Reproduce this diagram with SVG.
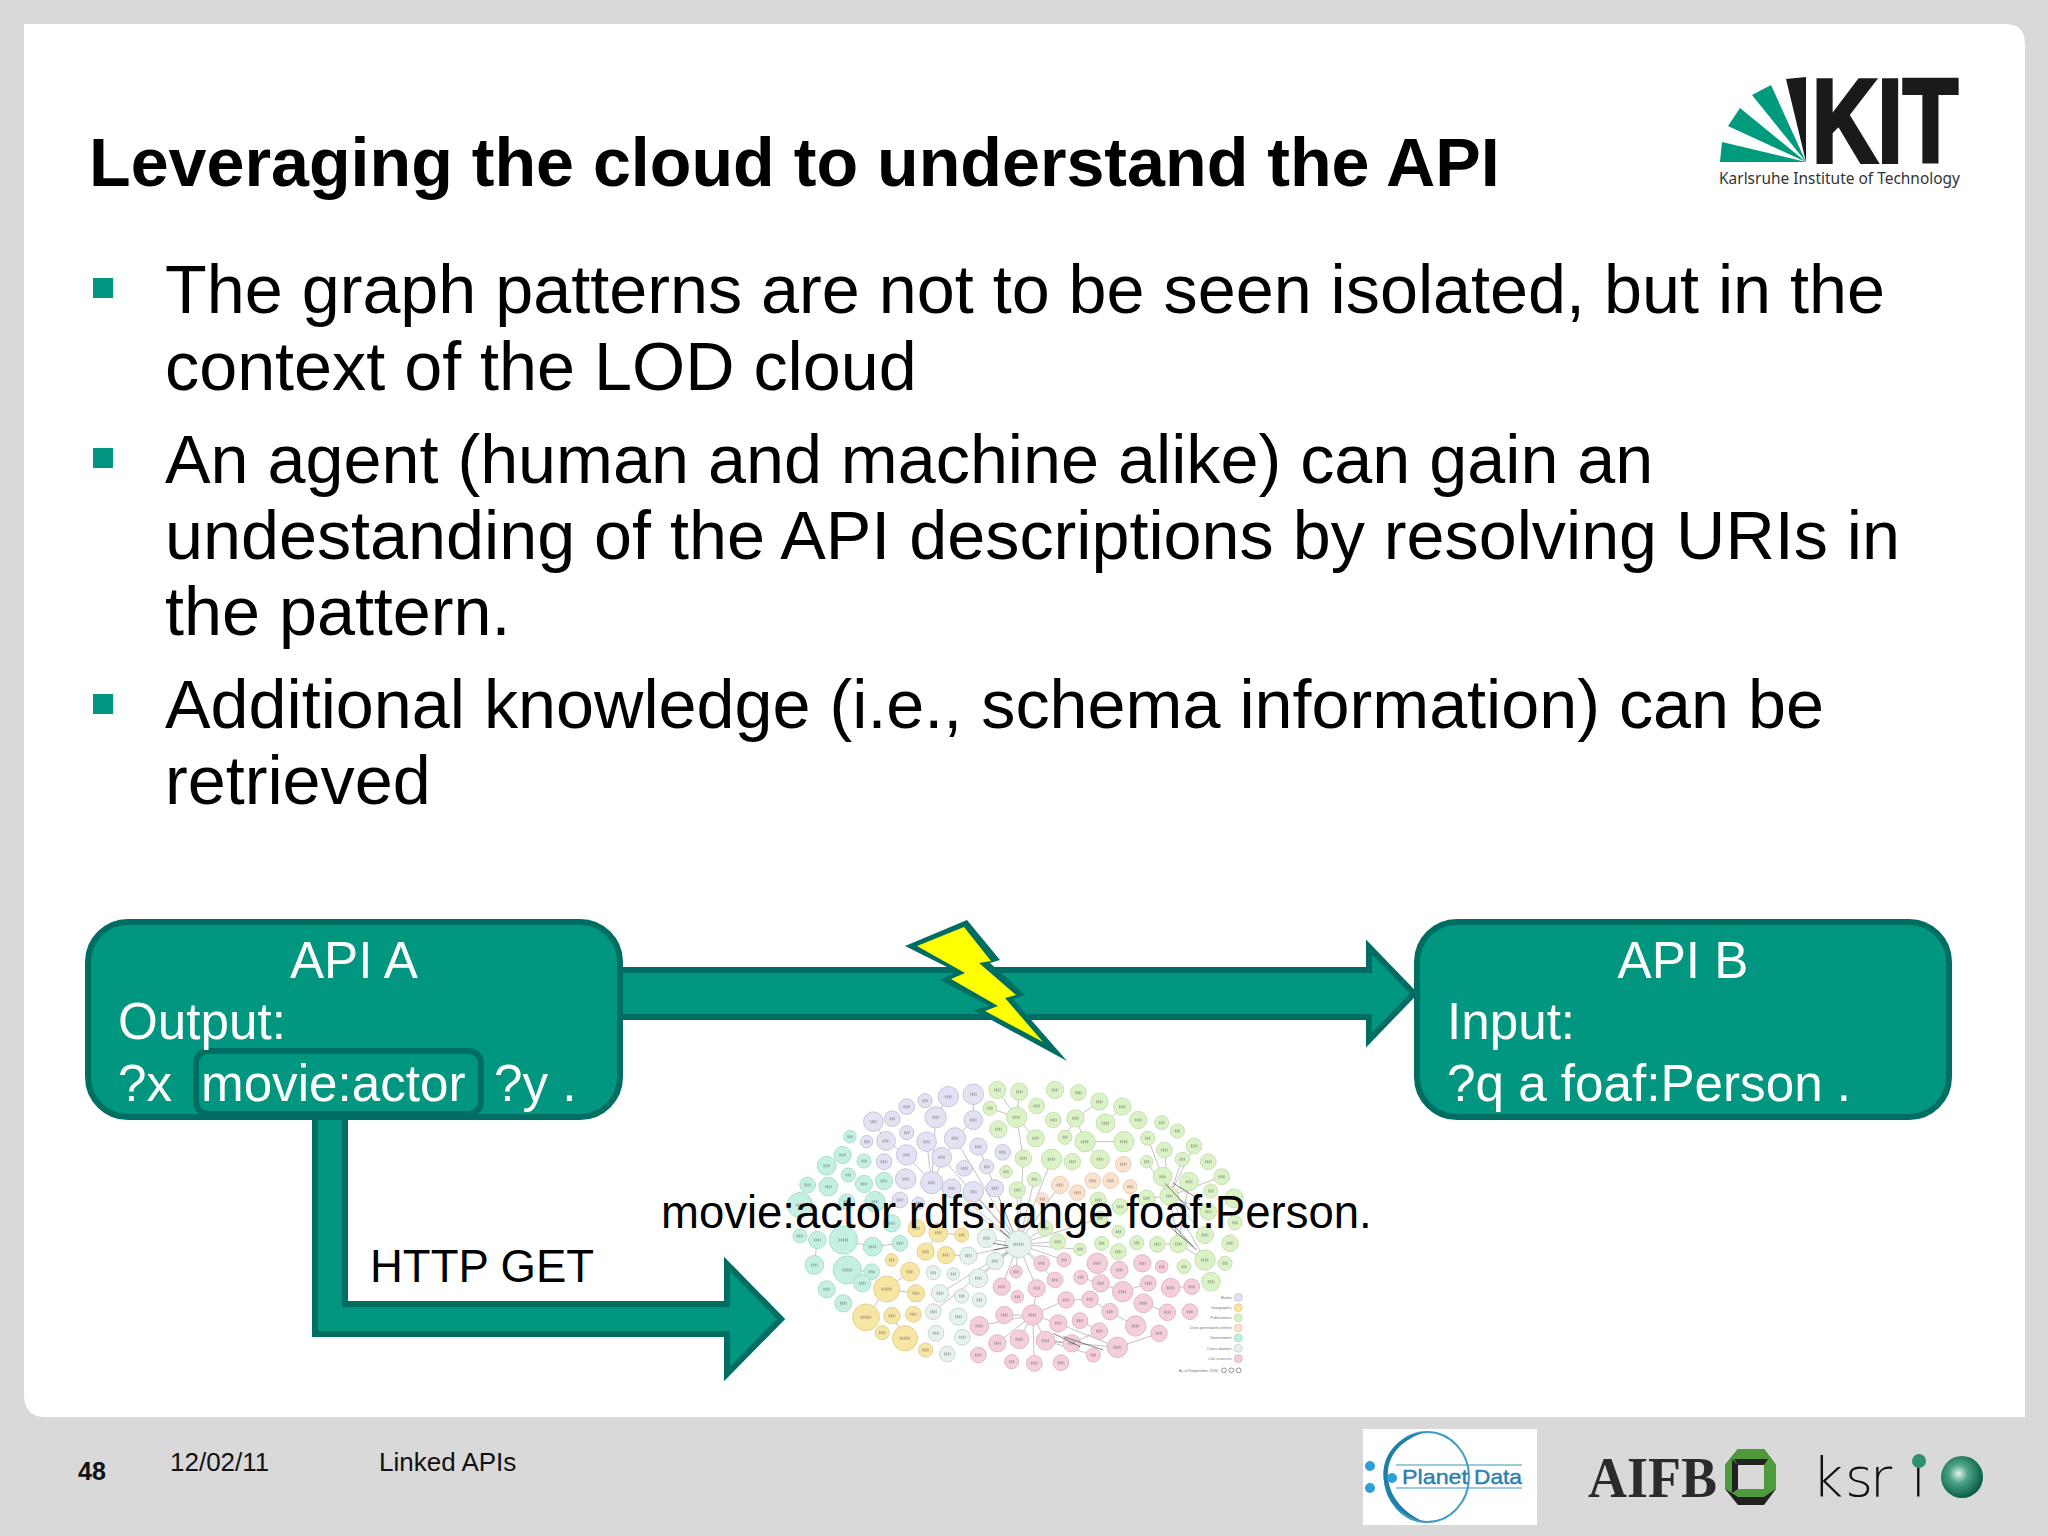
<svg xmlns="http://www.w3.org/2000/svg" width="2048" height="1536" viewBox="0 0 2048 1536">
<style>
text{font-family:"Liberation Sans",Arial,sans-serif}
.t{font-size:68.300px;fill:#000}
.w{font-size:51.200px;fill:#fff}
.k{font-size:45.500px;fill:#000}
.f{font-size:26px;fill:#111}
.bul{fill:#009682}
.node{fill:#00967f;stroke:#006d63;stroke-width:6}
.arr{fill:#00967f;stroke:#006d63;stroke-width:6;stroke-linejoin:miter}
.g{fill:#009a7c}
.lod circle{stroke-width:2;transform-box:fill-box;transform-origin:center;transform:scale(1.18)}
.me circle{fill:#e2e2f2;stroke:#bcbcd6}
.go circle{fill:#c4f0e1;stroke:#a0d8c6}
.ge circle{fill:#f7e5a3;stroke:#dcc884}
.cr circle{fill:#e6f2ee;stroke:#bccec8}
.li circle{fill:#f4cfda;stroke:#d9acbc}
.pu circle{fill:#dbf2c6;stroke:#bcdaa6}
.us circle{fill:#fbe2ce;stroke:#e6c6ae}
.lg{font-size:12px;fill:#777;text-anchor:end}
</style>
<defs>
<radialGradient id="ball" cx="0.42" cy="0.42" r="0.62"><stop offset="0" stop-color="#e8f4ee"/><stop offset="0.35" stop-color="#4fa58a"/><stop offset="1" stop-color="#00573f"/></radialGradient>
</defs>
<rect id="bg" width="2048" height="1536" fill="#d9d9d9"/>
<path id="panel" d="M24 24H2005Q2025 24 2025 44V1417H46Q24 1417 24 1395Z" fill="#fff"/>

<g id="kit-logo">
<polygon class="g" points="1806,162 1720,162 1722,142"/>
<polygon class="g" points="1806,162 1728,126 1740,108"/>
<polygon class="g" points="1806,162 1752,95 1771,85"/>
<polygon points="1806,162 1786,79 1806,77" fill="#1a1a1a"/>
<text x="1812" y="162" font-size="118" font-weight="700" textLength="146" lengthAdjust="spacingAndGlyphs" fill="#1a1a1a" stroke="#1a1a1a" stroke-width="4">KIT</text>
<text x="1719" y="184" font-size="17" textLength="241" lengthAdjust="spacingAndGlyphs" style="font-family:'Noto Sans',sans-serif" fill="#333">Karlsruhe Institute of Technology</text>
</g>

<text id="title" x="89" y="186" font-size="68.200" font-weight="700" fill="#000">Leveraging the cloud to understand the API</text>

<g id="bullets">
<rect class="bul" x="93" y="278" width="20" height="20"/>
<rect class="bul" x="93" y="448" width="20" height="20"/>
<rect class="bul" x="93" y="694" width="20" height="20"/>
<text class="t" x="165" y="313">The graph patterns are not to be seen isolated, but in the</text>
<text class="t" x="165" y="390">context of the LOD cloud</text>
<text class="t" x="165" y="483">An agent (human and machine alike) can gain an</text>
<text class="t" x="165" y="559">undestanding of the API descriptions by resolving URIs in</text>
<text class="t" x="165" y="635">the pattern.</text>
<text class="t" x="165" y="728">Additional knowledge (i.e., schema information) can be</text>
<text class="t" x="165" y="804">retrieved</text>
</g>

<g id="lod-cloud" class="lod" transform="translate(760 900) scale(.33333)">
<path fill="none" stroke="#666" stroke-width="1.6" opacity=".75" d="M775 1033L680 1015M775 1033L625 1067M775 1033L705 1083M775 1033L655 1135M775 1033L540 1180M775 1033L520 1235M775 1033L515 848M775 1033L575 865M775 1033L640 875M775 1033L705 865M775 1033L585 715M775 1033L655 740M775 1033L545 772M775 1033L790 775M775 1033L823 838M775 1033L875 778M775 1033L900 855M775 1033L845 1090M775 1033L912 1080M775 1033L768 1115M775 1033L830 1165M775 1033L725 1160M775 1033L885 1140M775 1033L893 1025M775 1033L855 985M775 1033L960 1048M775 1033L1020 955M775 1033L772 870M770 652L778 575M770 652L712 570M770 652L690 625M770 652L827 715M770 652L790 775M947 655L915 712M947 655L1018 605M975 725L1092 725M975 725L1020 778M975 725L947 655M1037 670L1087 620M527 652L515 848M585 715L515 848M500 725L515 848M440 765L515 848M640 660L640 583M640 660L585 715M565 590L527 652M378 723L440 765M340 665L378 723M250 1020L338 1040M338 1040L420 1030M163 1095L172 1020M262 1110L335 1115M380 1167L450 1115M380 1167L468 1180M435 1315L396 1247M318 1252L380 1167M535 998L497 1055M558 1065L625 1067M535 998L605 1005M818 1245L733 1245M818 1245L895 1270M818 1245L857 1322M818 1245L778 1318M818 1245L712 1330M818 1245L658 1278M818 1245L823 1390M818 1245L918 1200M818 1245L830 1165M857 1322L935 1330M857 1322L1000 1365M857 1322L1072 1342M895 1270L1072 1342M960 1262L1018 1293M935 1330L1018 1293M1072 1342L1197 1300M1127 1278L1050 1235M1150 1210L1222 1237M1232 1163L1295 1160M1165 1150L1088 1175M1022 1150L962 1132M1022 1150L1088 1175M990 1198L918 1200M1050 1235L990 1198M1228 888L1287 845M1228 888L1208 830M1228 888L1160 895M1228 888L1255 1032M1228 888L1335 1005M1228 888L1335 1080M1228 888L1213 750M1228 888L1267 778M1228 888L1160 785M1228 888L1345 935M1228 888L1385 830M1228 888L1302 738M1208 830L1163 715M1255 1032L1287 845M1255 1032L1335 1080M1255 1032L1192 1033"/>
<g class="me"><circle cx="565" cy="590" r="26"/><circle cx="640" cy="583" r="26"/><circle cx="495" cy="602" r="18"/><circle cx="440" cy="620" r="20"/><circle cx="340" cy="665" r="25"/><circle cx="397" cy="656" r="20"/><circle cx="527" cy="652" r="27"/><circle cx="640" cy="660" r="24"/><circle cx="320" cy="725" r="16"/><circle cx="378" cy="723" r="24"/><circle cx="440" cy="698" r="18"/><circle cx="500" cy="725" r="25"/><circle cx="585" cy="715" r="27"/><circle cx="655" cy="740" r="22"/><circle cx="728" cy="757" r="20"/><circle cx="440" cy="765" r="26"/><circle cx="545" cy="772" r="25"/><circle cx="372" cy="785" r="20"/><circle cx="613" cy="805" r="20"/><circle cx="680" cy="800" r="18"/><circle cx="437" cy="837" r="26"/><circle cx="515" cy="848" r="28"/><circle cx="575" cy="865" r="24"/><circle cx="640" cy="875" r="26"/><circle cx="705" cy="865" r="22"/><circle cx="420" cy="900" r="20"/><circle cx="475" cy="910" r="16"/><circle cx="1435" cy="1192" r="10"/></g>
<g class="go"><circle cx="270" cy="710" r="16"/><circle cx="248" cy="765" r="22"/><circle cx="200" cy="797" r="24"/><circle cx="312" cy="783" r="18"/><circle cx="265" cy="825" r="18"/><circle cx="312" cy="852" r="22"/><circle cx="372" cy="843" r="22"/><circle cx="143" cy="855" r="20"/><circle cx="205" cy="860" r="24"/><circle cx="120" cy="915" r="32"/><circle cx="345" cy="905" r="26"/><circle cx="260" cy="905" r="20"/><circle cx="395" cy="970" r="22"/><circle cx="120" cy="1008" r="18"/><circle cx="172" cy="1020" r="22"/><circle cx="250" cy="1020" r="36"/><circle cx="338" cy="1040" r="24"/><circle cx="420" cy="1030" r="20"/><circle cx="163" cy="1095" r="24"/><circle cx="262" cy="1110" r="36"/><circle cx="335" cy="1115" r="20"/><circle cx="200" cy="1168" r="22"/><circle cx="307" cy="1150" r="22"/><circle cx="250" cy="1210" r="22"/><circle cx="1435" cy="1314" r="10"/></g>
<g class="ge"><circle cx="470" cy="985" r="22"/><circle cx="535" cy="998" r="24"/><circle cx="605" cy="1005" r="18"/><circle cx="497" cy="1055" r="22"/><circle cx="558" cy="1065" r="22"/><circle cx="395" cy="1080" r="16"/><circle cx="450" cy="1115" r="24"/><circle cx="380" cy="1167" r="33"/><circle cx="468" cy="1180" r="22"/><circle cx="318" cy="1252" r="34"/><circle cx="396" cy="1247" r="21"/><circle cx="460" cy="1243" r="20"/><circle cx="367" cy="1298" r="18"/><circle cx="435" cy="1315" r="32"/><circle cx="497" cy="1350" r="18"/><circle cx="1435" cy="1223" r="10"/></g>
<g class="cr"><circle cx="680" cy="1015" r="24"/><circle cx="775" cy="1033" r="34"/><circle cx="625" cy="1067" r="22"/><circle cx="705" cy="1083" r="22"/><circle cx="520" cy="1118" r="18"/><circle cx="580" cy="1122" r="16"/><circle cx="655" cy="1135" r="24"/><circle cx="540" cy="1180" r="22"/><circle cx="605" cy="1188" r="18"/><circle cx="658" cy="1200" r="18"/><circle cx="520" cy="1235" r="20"/><circle cx="595" cy="1250" r="22"/><circle cx="528" cy="1300" r="20"/><circle cx="607" cy="1312" r="20"/><circle cx="562" cy="1362" r="20"/><circle cx="1435" cy="1345" r="10"/></g>
<g class="li"><circle cx="845" cy="1090" r="20"/><circle cx="912" cy="1080" r="18"/><circle cx="1012" cy="1090" r="26"/><circle cx="1078" cy="1110" r="22"/><circle cx="1147" cy="1090" r="22"/><circle cx="1205" cy="1100" r="16"/><circle cx="768" cy="1115" r="16"/><circle cx="885" cy="1140" r="20"/><circle cx="962" cy="1132" r="18"/><circle cx="1022" cy="1150" r="22"/><circle cx="1088" cy="1175" r="26"/><circle cx="1165" cy="1150" r="20"/><circle cx="1232" cy="1163" r="24"/><circle cx="1295" cy="1160" r="20"/><circle cx="725" cy="1160" r="22"/><circle cx="830" cy="1165" r="22"/><circle cx="772" cy="1190" r="16"/><circle cx="918" cy="1200" r="21"/><circle cx="990" cy="1198" r="21"/><circle cx="1150" cy="1210" r="24"/><circle cx="1050" cy="1235" r="21"/><circle cx="1222" cy="1237" r="21"/><circle cx="1290" cy="1235" r="20"/><circle cx="733" cy="1245" r="22"/><circle cx="818" cy="1245" r="26"/><circle cx="658" cy="1278" r="24"/><circle cx="895" cy="1270" r="22"/><circle cx="960" cy="1262" r="20"/><circle cx="1018" cy="1293" r="21"/><circle cx="1127" cy="1278" r="26"/><circle cx="1197" cy="1300" r="21"/><circle cx="712" cy="1330" r="22"/><circle cx="778" cy="1318" r="24"/><circle cx="857" cy="1322" r="24"/><circle cx="935" cy="1330" r="22"/><circle cx="1072" cy="1342" r="26"/><circle cx="655" cy="1365" r="20"/><circle cx="755" cy="1385" r="18"/><circle cx="823" cy="1390" r="20"/><circle cx="903" cy="1388" r="20"/><circle cx="1000" cy="1365" r="18"/><circle cx="1435" cy="1376" r="10"/></g>
<g class="pu"><circle cx="712" cy="570" r="22"/><circle cx="778" cy="575" r="22"/><circle cx="885" cy="570" r="22"/><circle cx="955" cy="578" r="20"/><circle cx="1018" cy="605" r="22"/><circle cx="1087" cy="620" r="22"/><circle cx="690" cy="625" r="18"/><circle cx="830" cy="618" r="20"/><circle cx="770" cy="652" r="26"/><circle cx="1135" cy="660" r="22"/><circle cx="715" cy="688" r="22"/><circle cx="880" cy="660" r="20"/><circle cx="947" cy="655" r="22"/><circle cx="1037" cy="670" r="24"/><circle cx="1205" cy="668" r="18"/><circle cx="1252" cy="693" r="18"/><circle cx="827" cy="715" r="22"/><circle cx="915" cy="712" r="18"/><circle cx="975" cy="725" r="26"/><circle cx="1092" cy="725" r="26"/><circle cx="1163" cy="715" r="18"/><circle cx="1213" cy="750" r="20"/><circle cx="1302" cy="738" r="20"/><circle cx="1267" cy="778" r="18"/><circle cx="790" cy="775" r="21"/><circle cx="875" cy="778" r="26"/><circle cx="937" cy="785" r="21"/><circle cx="1020" cy="778" r="24"/><circle cx="1160" cy="785" r="16"/><circle cx="1345" cy="785" r="20"/><circle cx="738" cy="815" r="16"/><circle cx="823" cy="838" r="18"/><circle cx="772" cy="870" r="21"/><circle cx="1208" cy="830" r="24"/><circle cx="1385" cy="830" r="20"/><circle cx="1287" cy="845" r="24"/><circle cx="1352" cy="873" r="18"/><circle cx="1228" cy="888" r="24"/><circle cx="1160" cy="895" r="21"/><circle cx="1015" cy="900" r="20"/><circle cx="1080" cy="920" r="20"/><circle cx="1345" cy="935" r="21"/><circle cx="1422" cy="895" r="24"/><circle cx="1425" cy="968" r="18"/><circle cx="1020" cy="955" r="18"/><circle cx="1075" cy="995" r="16"/><circle cx="893" cy="1025" r="20"/><circle cx="960" cy="1048" r="16"/><circle cx="1025" cy="1030" r="18"/><circle cx="1075" cy="1055" r="20"/><circle cx="1130" cy="1028" r="18"/><circle cx="1192" cy="1033" r="20"/><circle cx="1255" cy="1032" r="22"/><circle cx="1335" cy="1005" r="22"/><circle cx="1410" cy="1030" r="21"/><circle cx="1335" cy="1080" r="26"/><circle cx="1395" cy="1090" r="18"/><circle cx="1272" cy="1100" r="18"/><circle cx="1353" cy="1145" r="24"/><circle cx="855" cy="985" r="20"/><circle cx="1435" cy="1253" r="10"/></g>
<g class="us"><circle cx="1090" cy="793" r="20"/><circle cx="900" cy="855" r="22"/><circle cx="952" cy="878" r="20"/><circle cx="998" cy="842" r="20"/><circle cx="1052" cy="842" r="20"/><circle cx="1110" cy="860" r="18"/><circle cx="847" cy="897" r="16"/><circle cx="1435" cy="1284" r="10"/></g>
<path fill="none" stroke="#555" stroke-width="9" stroke-dasharray="4 2" opacity=".4" d="M555 590h20M630 583h20M487 602h16M430 620h20M330 665h20M389 656h16M517 652h20M630 660h20M312 725h16M368 723h20M432 698h16M490 725h20M575 715h20M645 740h20M718 757h20M430 765h20M535 772h20M362 785h20M603 805h20M672 800h16M427 837h20M505 848h20M565 865h20M630 875h20M695 865h20M410 900h20M467 910h16M262 710h16M238 765h20M190 797h20M304 783h16M257 825h16M302 852h20M362 843h20M133 855h20M195 860h20M108 915h24M335 905h20M250 905h20M385 970h20M110 1008h20M162 1020h20M236 1020h28M326 1040h24M410 1030h20M153 1095h20M248 1110h28M325 1115h20M190 1168h20M297 1150h20M240 1210h20M460 985h20M525 998h20M597 1005h16M487 1055h20M548 1065h20M387 1080h16M440 1115h20M364 1167h32M458 1180h20M302 1252h32M386 1247h20M450 1243h20M357 1298h20M419 1315h32M487 1350h20M670 1015h20M759 1033h32M615 1067h20M695 1083h20M512 1118h16M572 1122h16M645 1135h20M530 1180h20M597 1188h16M650 1200h16M510 1235h20M585 1250h20M518 1300h20M597 1312h20M552 1362h20M835 1090h20M904 1080h16M1000 1090h24M1068 1110h20M1137 1090h20M1197 1100h16M760 1115h16M875 1140h20M954 1132h16M1012 1150h20M1076 1175h24M1155 1150h20M1220 1163h24M1285 1160h20M715 1160h20M820 1165h20M764 1190h16M908 1200h20M980 1198h20M1138 1210h24M1040 1235h20M1212 1237h20M1280 1235h20M723 1245h20M806 1245h24M646 1278h24M885 1270h20M950 1262h20M1008 1293h20M1115 1278h24M1187 1300h20M702 1330h20M766 1318h24M845 1322h24M925 1330h20M1060 1342h24M645 1365h20M747 1385h16M813 1390h20M893 1388h20M992 1365h16M702 570h20M768 575h20M875 570h20M945 578h20M1008 605h20M1077 620h20M682 625h16M820 618h20M758 652h24M1125 660h20M705 688h20M870 660h20M937 655h20M1025 670h24M1197 668h16M1244 693h16M817 715h20M907 712h16M963 725h24M1080 725h24M1155 715h16M1203 750h20M1292 738h20M1259 778h16M780 775h20M863 778h24M927 785h20M1010 778h20M1152 785h16M1335 785h20M730 815h16M815 838h16M762 870h20M1198 830h20M1375 830h20M1277 845h20M1344 873h16M1218 888h20M1150 895h20M1005 900h20M1070 920h20M1335 935h20M1410 895h24M1417 968h16M1012 955h16M1067 995h16M883 1025h20M952 1048h16M1017 1030h16M1065 1055h20M1122 1028h16M1182 1033h20M1245 1032h20M1325 1005h20M1400 1030h20M1323 1080h24M1387 1090h16M1264 1100h16M1343 1145h20M845 985h20M1080 793h20M890 855h20M942 878h20M988 842h20M1042 842h20M1102 860h16M839 897h16"/>
<path fill="none" stroke="#222" stroke-width="2.400" opacity=".7" d="M1225 960L1300 1040M1235 985L1310 1050M1240 850L1320 900M1215 850L1290 930M700 1030L745 1038M700 1050L745 1042M720 990L750 1015M880 1300L960 1340M910 1310L1030 1350"/>
<text class="lg" x="1415" y="1196">Media</text>
<text class="lg" x="1415" y="1227">Geographic</text>
<text class="lg" x="1415" y="1257">Publications</text>
<text class="lg" x="1415" y="1288">User-generated content</text>
<text class="lg" x="1415" y="1318">Government</text>
<text class="lg" x="1415" y="1349">Cross-domain</text>
<text class="lg" x="1415" y="1380">Life sciences</text>
<text class="lg" x="1375" y="1415">As of September 2010</text>
<g fill="none" stroke="#777" stroke-width="2"><circle cx="1392" cy="1411" r="6"/><circle cx="1414" cy="1411" r="6"/><circle cx="1436" cy="1411" r="6"/></g>
</g>

<g id="connectors">
<polygon class="arr" points="620,970 1369,970 1369,947 1414,993.500 1369,1040 1369,1017 620,1017"/>
<polygon class="arr" points="315,1115 345,1115 345,1304 727,1304 727,1264 781,1319 727,1374 727,1334 315,1334"/>
<text class="k" x="370" y="1282">HTTP GET</text>
</g>

<g id="lightning">
<polygon points="905,946 967,920 1000,960 990,963 1025,995 1013,999 1067,1061 973,1010 990,1006 940,980 957,972" fill="#006d63"/>
<polygon points="917,946 964,927 991,961 979,963 1016,995 1005,998 1043,1042 985,1011 998,1006 951,979 965,973" fill="#ffff00"/>
</g>

<g id="api-a">
<rect class="node" x="88" y="922" width="532" height="195" rx="40"/>
<rect x="196" y="1051" width="285" height="63" rx="12" fill="none" stroke="#006d63" stroke-width="6"/>
<text class="w" x="354" y="978" text-anchor="middle">API A</text>
<text class="w" x="118" y="1039">Output:</text>
<text class="w" x="118" y="1101">?x</text>
<text class="w" x="201" y="1101">movie:actor</text>
<text class="w" x="494" y="1101">?y .</text>
</g>
<g id="api-b">
<rect class="node" x="1417" y="922" width="532" height="195" rx="40"/>
<text class="w" x="1683" y="978" text-anchor="middle">API B</text>
<text class="w" x="1447" y="1039">Input:</text>
<text class="w" x="1447" y="1101">?q a foaf:Person .</text>
</g>

<text id="range-label" class="k" x="661" y="1228">movie:actor rdfs:range foaf:Person.</text>

<g id="footer">
<text x="78" y="1480" font-size="25" font-weight="700" fill="#111">48</text>
<text class="f" x="170" y="1471">12/02/11</text>
<text class="f" x="379" y="1471">Linked APIs</text>
</g>

<g id="planet-data">
<rect x="1363" y="1429" width="174" height="96" fill="#fff"/>
<path d="M1396 1465H1522M1396 1488H1522" stroke="#7fb8d0" stroke-width="1.500" fill="none"/>
<ellipse cx="1427" cy="1477" rx="42" ry="45" fill="none" stroke="#3e9cc2" stroke-width="2"/>
<path d="M1427 1432C1395 1435 1380 1458 1384 1482C1387 1502 1402 1518 1425 1522C1405 1514 1390 1498 1388 1478C1386 1456 1402 1438 1427 1432Z" fill="#1f7fa8"/>
<circle cx="1370" cy="1466" r="5" fill="#2f9fd8"/><circle cx="1370" cy="1488" r="5" fill="#2f9fd8"/><circle cx="1392" cy="1478" r="5" fill="#2f9fd8"/>
<text x="1402" y="1484" font-size="21" textLength="66" lengthAdjust="spacingAndGlyphs" fill="#2a7fae" stroke="#2a7fae" stroke-width=".4">Planet</text>
<text x="1474" y="1484" font-size="21" textLength="48" lengthAdjust="spacingAndGlyphs" fill="#2a7fae" stroke="#2a7fae" stroke-width=".4">Data</text>
</g>
<g id="aifb">
<text x="1588" y="1497" font-size="58" font-weight="700" textLength="129" lengthAdjust="spacingAndGlyphs" style="font-family:'Liberation Serif',serif" fill="#2b2b2b">AIFB</text>
<polygon points="1738,1449 1764,1449 1776,1465 1776,1489 1764,1505 1738,1505 1725,1489 1725,1465" fill="#222"/>
<polygon points="1738,1449 1764,1449 1776,1465 1776,1489 1764,1497 1738,1497 1725,1489 1725,1465" fill="#4f9a3c"/>
<rect x="1738" y="1465" width="26" height="24" fill="#d9d9d9"/>
<path d="M1738 1465H1764L1768 1459H1734ZM1738 1465V1489L1732 1493V1459Z" fill="#222"/>
</g>
<g id="ksri">
<text x="1812 1845 1870 1911" y="1496" font-size="54" style="font-family:'DejaVu Sans',sans-serif" font-weight="200" fill="#111">ksri</text>
<circle cx="1919" cy="1461" r="7" fill="#2f8f72"/>
<ellipse cx="1962" cy="1477" rx="21" ry="21" fill="url(#ball)"/>
</g>
</svg>
